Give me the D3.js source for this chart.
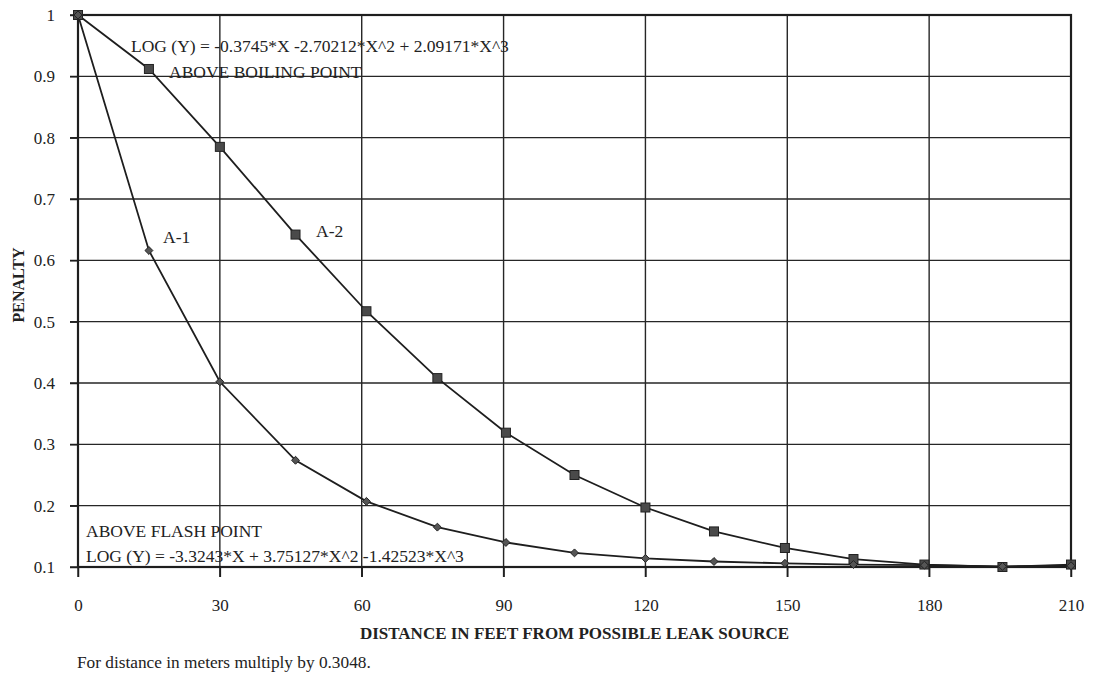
<!DOCTYPE html>
<html>
<head>
<meta charset="utf-8">
<script src="https://cdn.jsdelivr.net/npm/d3@7"></script>
<style>
  html, body { margin: 0; padding: 0; background: #fff; }
  svg { display: block; font-family: "Liberation Serif", "DejaVu Serif", serif; }
</style>
</head>
<body>
<svg id="chart" width="1095" height="675"></svg>
<script>
// Distance from leak source (ft) at each computed point
const distances = [0, 15, 30, 46, 61, 76, 90.5, 105, 120, 134.5, 149.5, 164, 179, 195.5, 210];
// A-2: above boiling point
const penaltyA2 = [1, 0.912, 0.785, 0.642, 0.517, 0.408, 0.319, 0.250, 0.197, 0.158, 0.131, 0.113, 0.104, 0.100, 0.104];
// A-1: above flash point
const penaltyA1 = [1, 0.616, 0.402, 0.274, 0.207, 0.165, 0.140, 0.123, 0.114, 0.109, 0.106, 0.104, 0.103, 0.101, 0.102];
const xTicks = [0, 30, 60, 90, 120, 150, 180, 210];
const yTicks = [0.1, 0.2, 0.3, 0.4, 0.5, 0.6, 0.7, 0.8, 0.9, 1];

const svg = d3.select("#chart");
const margin = { left: 78, top: 15, right: 24, bottom: 108 };
const W = 1095 - margin.left - margin.right;
const H = 675 - margin.top - margin.bottom;

const x = d3.scaleLinear().domain([0, 210]).range([0, W]);
const y = d3.scaleLinear().domain([0.1, 1]).range([H, 0]);

const g = svg.append("g").attr("transform", `translate(${margin.left},${margin.top})`);
const ink = "#1e1e1e";

// Gridlines
g.append("g").attr("class", "grid")
  .selectAll("line.h").data(yTicks).join("line")
  .attr("x1", -8).attr("x2", W)
  .attr("y1", d => y(d)).attr("y2", d => y(d))
  .attr("stroke", "#262626").attr("stroke-width", 1.4);
g.append("g").attr("class", "grid")
  .selectAll("line.v").data(xTicks).join("line")
  .attr("x1", d => x(d)).attr("x2", d => x(d))
  .attr("y1", 0).attr("y2", H + 10)
  .attr("stroke", "#262626").attr("stroke-width", 1.4);

// Axes
const yAxis = d3.axisLeft(y).tickValues(yTicks).tickSize(8).tickPadding(15)
  .tickFormat(d => d === 1 ? "1" : d3.format(".1f")(d));
const xAxis = d3.axisBottom(x).tickValues(xTicks).tickSize(10).tickPadding(22)
  .tickFormat(d3.format("d"));

const gy = g.append("g").call(yAxis);
const gx = g.append("g").attr("transform", `translate(0,${H})`).call(xAxis);
[gx, gy].forEach(a => {
  a.select(".domain").remove();
  a.selectAll("line").attr("stroke", ink).attr("stroke-width", 1.5);
  a.selectAll("text").attr("fill", "#222").style("font-size", "17px")
    .style("font-family", "Liberation Serif, serif");
});

// Plot frame
g.append("rect").attr("x", 0).attr("y", 0).attr("width", W).attr("height", H)
  .attr("fill", "none").attr("stroke", ink).attr("stroke-width", 2.2);

const line = d3.line().x(d => x(d[0])).y(d => y(d[1]));
const a2 = distances.map((d, i) => [d, penaltyA2[i]]);
const a1 = distances.map((d, i) => [d, penaltyA1[i]]);

g.append("path").datum(a2).attr("d", line)
  .attr("fill", "none").attr("stroke", ink).attr("stroke-width", 1.8);
g.append("path").datum(a1).attr("d", line)
  .attr("fill", "none").attr("stroke", ink).attr("stroke-width", 1.8);

// Markers: squares for A-2, diamonds for A-1
g.selectAll("rect.sq").data(a2).join("rect").attr("class", "sq")
  .attr("x", d => x(d[0]) - 4.5).attr("y", d => y(d[1]) - 4.5)
  .attr("width", 9).attr("height", 9)
  .attr("fill", "#4a4a4a").attr("stroke", "#222").attr("stroke-width", 1);
const diamond = d3.symbol().type(d3.symbolDiamond2).size(40);
g.selectAll("path.dm").data(a1).join("path").attr("class", "dm")
  .attr("transform", d => `translate(${x(d[0])},${y(d[1])})`)
  .attr("d", diamond)
  .attr("fill", "#555").attr("stroke", "#222").attr("stroke-width", 1);

// Annotations
const note = (tx, ty, s, size, anchor) => svg.append("text")
  .attr("x", tx).attr("y", ty).attr("dy", "0.35em")
  .attr("text-anchor", anchor || "start")
  .attr("fill", "#222").style("font-size", (size || 17.5) + "px").text(s);

note(131, 46, "LOG (Y) = -0.3745*X -2.70212*X^2 + 2.09171*X^3");
note(169, 72, "ABOVE BOILING POINT");
note(163, 237, "A-1");
note(316, 231, "A-2");
note(86, 531, "ABOVE FLASH POINT");
note(86, 556, "LOG (Y) = -3.3243*X + 3.75127*X^2 -1.42523*X^3");

// Axis titles and footnote
svg.append("text")
  .attr("transform", "translate(18,285) rotate(-90)")
  .attr("text-anchor", "middle").attr("dy", "0.35em")
  .attr("fill", "#222").style("font-size", "16px").style("font-weight", "bold")
  .text("PENALTY");
svg.append("text")
  .attr("x", margin.left + W / 2).attr("y", 633).attr("dy", "0.35em")
  .attr("text-anchor", "middle")
  .attr("fill", "#222").style("font-size", "17px").style("font-weight", "bold")
  .text("DISTANCE IN FEET FROM POSSIBLE LEAK SOURCE");
note(77, 662, "For distance in meters multiply by 0.3048.", 17.3);
</script>
</body>
</html>
